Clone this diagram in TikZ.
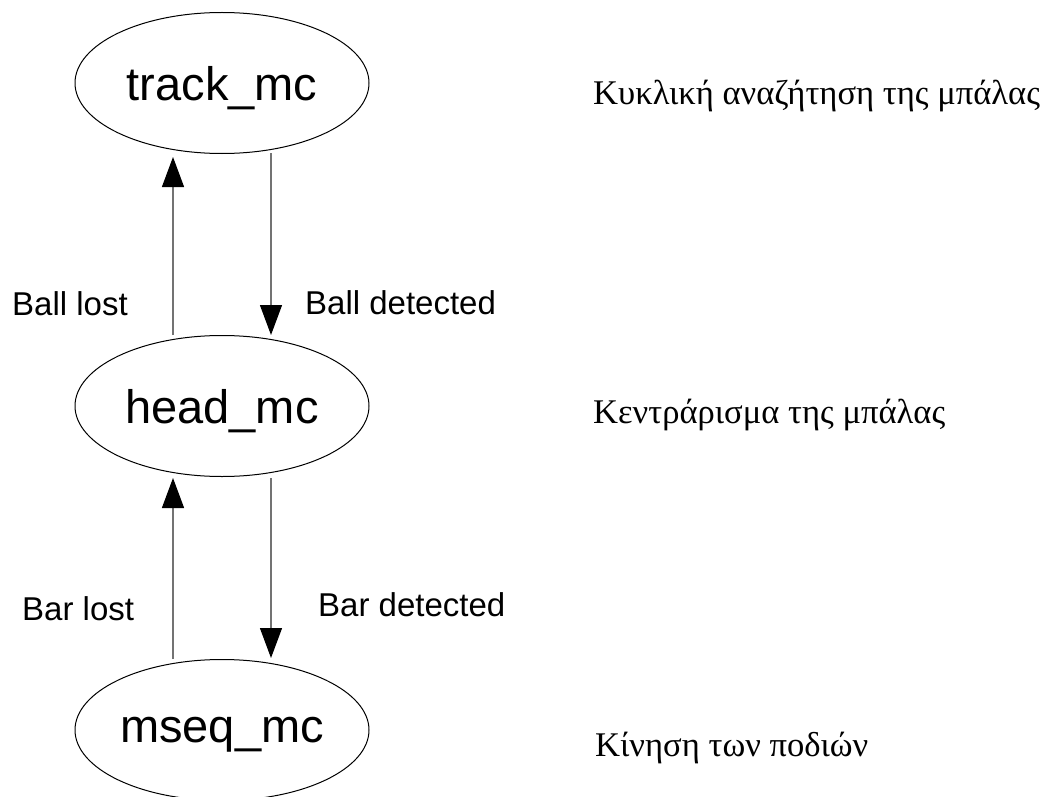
\documentclass[tikz,border=0pt]{standalone}
\usepackage{fontspec}
\setmainfont{Liberation Sans}
\newfontfamily\greekserif{Liberation Serif}
\usetikzlibrary{shapes.geometric,arrows.meta,calc}
\newcommand{\lowertxt}[1]{\raisebox{-5pt}[\height][\depth]{#1}}
\tikzset{
  state/.style={draw=black, line width=1pt, ellipse, minimum width=294pt, minimum height=141pt, inner sep=0pt, font=\fontsize{47}{50}\selectfont},
  trans/.style={draw=black!55, line width=1.2pt, -{Triangle[length=30pt,width=22pt,black]}},
  lbl/.style={anchor=base west, inner sep=0pt, font=\fontsize{33}{36}\selectfont},
  note/.style={anchor=base west, inner sep=0pt, font=\greekserif\fontsize{34.6}{40}\selectfont}
}
\begin{document}
\begin{tikzpicture}[x=1pt,y=-1pt]
\useasboundingbox (0,0) rectangle (1049,797);
\node[state] (track) at (222,83) {\lowertxt{track\_mc}};
\node[state] (head) at (222,406) {\lowertxt{head\_mc}};
\node[state] (mseq) at (222,730) {\lowertxt{mseq\_mc}};
\draw[trans] ($(head.center)+(-49,-71)$) -- ($(track.center)+(-49,74)$);
\draw[trans] ($(track.center)+(49,70)$) -- ($(head.center)+(49,-71)$);
\draw[trans] ($(mseq.center)+(-49,-71)$) -- ($(head.center)+(-49,72)$);
\draw[trans] ($(head.center)+(49,72)$) -- ($(mseq.center)+(49,-72)$);
\node[lbl] (l1) at (12,315) {Ball lost};
\node[lbl] (l2) at (305,314) {Ball detected};
\node[lbl] (l3) at (22,620) {Bar lost};
\node[lbl] (l4) at (318,616) {Bar detected};
\node[note] (n1) at (593,105) {Κυκλική αναζήτηση της μπάλας};
\node[note] (n2) at (593,423) {Κεντράρισμα της μπάλας};
\node[note] (n3) at (595,756) {Κίνηση των ποδιών};
\end{tikzpicture}
\end{document}
